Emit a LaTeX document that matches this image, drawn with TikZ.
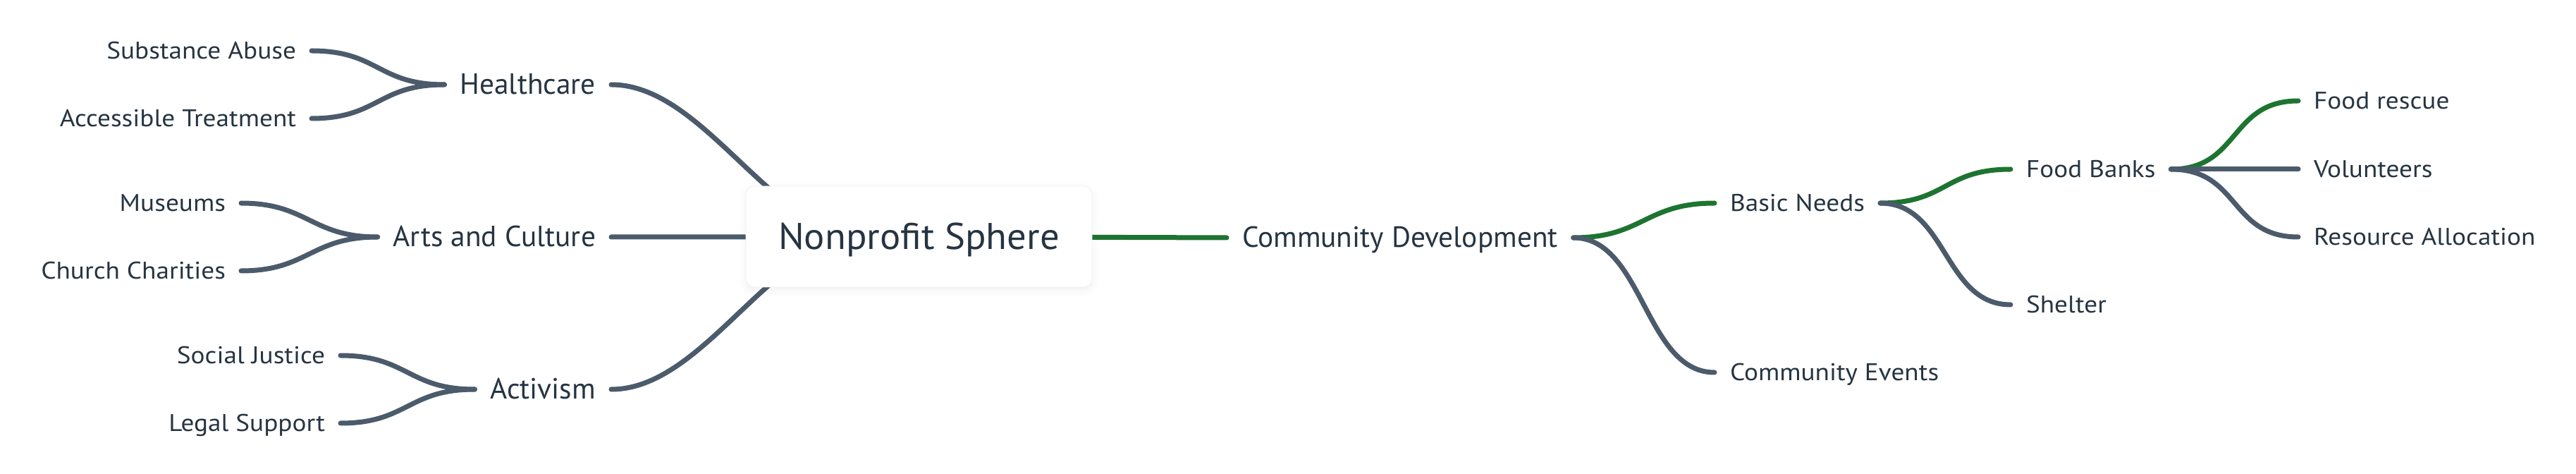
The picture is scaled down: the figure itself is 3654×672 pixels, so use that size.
\documentclass[tikz,border=0pt]{standalone}
\usepackage{fontspec}
\setmainfont{PT Sans}
\newfontfamily\subfont[FakeStretch=1.09]{PT Sans}
\newfontfamily\rootfont[FakeStretch=1.035]{PT Sans}
\usepackage{tikz}
\usetikzlibrary{backgrounds,shadows.blur}
\definecolor{ink}{HTML}{263442}
\definecolor{branch}{HTML}{4B5B6B}
\definecolor{picked}{HTML}{1D7430}

\begin{document}
\begin{tikzpicture}[x=0.5pt,y=-0.5pt,
  centre/.style={fill=white,draw=black!5,rounded corners=6pt,minimum width=245.5pt,minimum height=71.5pt,
    inner sep=0pt,outer sep=0pt,text=ink,font=\rootfont\fontsize{26.4}{30}\selectfont,text height=18.5pt,text depth=0pt,
    blur shadow={shadow xshift=0pt,shadow yshift=-2pt,shadow opacity=6,shadow blur radius=5pt}},
  topic/.style={text=ink,inner sep=0pt,outer xsep=11pt,outer ysep=0pt,font=\fontsize{20.7}{24}\selectfont,text height=13.5pt,text depth=0pt},
  sub/.style={text=ink,inner sep=0pt,outer xsep=11pt,outer ysep=0pt,font=\subfont\fontsize{17.1}{20}\selectfont,text height=12pt,text depth=0pt},
  link/.style={line width=3.5pt,line cap=round,draw=branch},
  hot/.style={link,draw=picked}]
\useasboundingbox (0,0) rectangle (3654,672);

% centre
\node[centre] (root) at (1303.5,335.5) {Nonprofit Sphere};

% left half
\node[topic,anchor=east] (hc) at (867,120) {Healthcare};
\node[topic,anchor=east] (ac) at (867,336) {Arts and Culture};
\node[topic,anchor=east] (av) at (867,552) {Activism};
\node[sub,anchor=east] (sa) at (442,72) {Substance Abuse};
\node[sub,anchor=east] (at) at (442,168) {Accessible Treatment};
\node[sub,anchor=east] (mu) at (342,288) {Museums};
\node[sub,anchor=east] (cc) at (342,384) {Church Charities};
\node[sub,anchor=east] (sj) at (483,504) {Social Justice};
\node[sub,anchor=east] (ls) at (483,600) {Legal Support};

% right half
\node[topic,anchor=west] (cd) at (1740,337) {Community Development};
\node[sub,anchor=west] (bn) at (2432,288) {Basic Needs};
\node[sub,anchor=west] (ce) at (2432,528) {Community Events};
\node[sub,anchor=west] (fb) at (2852,240) {Food Banks};
\node[sub,anchor=west] (sh) at (2852,432) {Shelter};
\node[sub,anchor=west] (fr) at (3260,143) {Food rescue};
\node[sub,anchor=west] (vo) at (3260,240) {Volunteers};
\node[sub,anchor=west] (ra) at (3260,336) {Resource Allocation};

\begin{scope}[on background layer]
% highlighted path
\draw[hot] (root.center) -- (cd.west);
\draw[hot] (cd.east) .. controls +(99,0) and +(-99,0) .. (bn.west);
\draw[hot] (bn.east) .. controls +(95,0) and +(-95,0) .. (fb.west);
\draw[hot] (fb.east) .. controls +(98,0) and +(-98,0) .. (fr.west);
% the rest
\draw[link] (cd.east) .. controls +(99,0) and +(-99,0) .. (ce.west);
\draw[link] (bn.east) .. controls +(95,0) and +(-95,0) .. (sh.west);
\draw[link] (fb.east) -- (vo.west);
\draw[link] (fb.east) .. controls +(98,0) and +(-98,0) .. (ra.west);
\draw[link] ([xshift=85.5pt]root.west) .. controls +(-133,0) and +(133,0) .. (hc.east);
\draw[link] (root.center) -- (ac.east);
\draw[link] ([xshift=85.5pt]root.west) .. controls +(-133,0) and +(133,0) .. (av.east);
\draw[link] (hc.west) .. controls +(-95,0) and +(95,0) .. (sa.east);
\draw[link] (hc.west) .. controls +(-95,0) and +(95,0) .. (at.east);
\draw[link] (ac.west) .. controls +(-95,0) and +(95,0) .. (mu.east);
\draw[link] (ac.west) .. controls +(-95,0) and +(95,0) .. (cc.east);
\draw[link] (av.west) .. controls +(-95,0) and +(95,0) .. (sj.east);
\draw[link] (av.west) .. controls +(-95,0) and +(95,0) .. (ls.east);
\end{scope}
\end{tikzpicture}
\end{document}
